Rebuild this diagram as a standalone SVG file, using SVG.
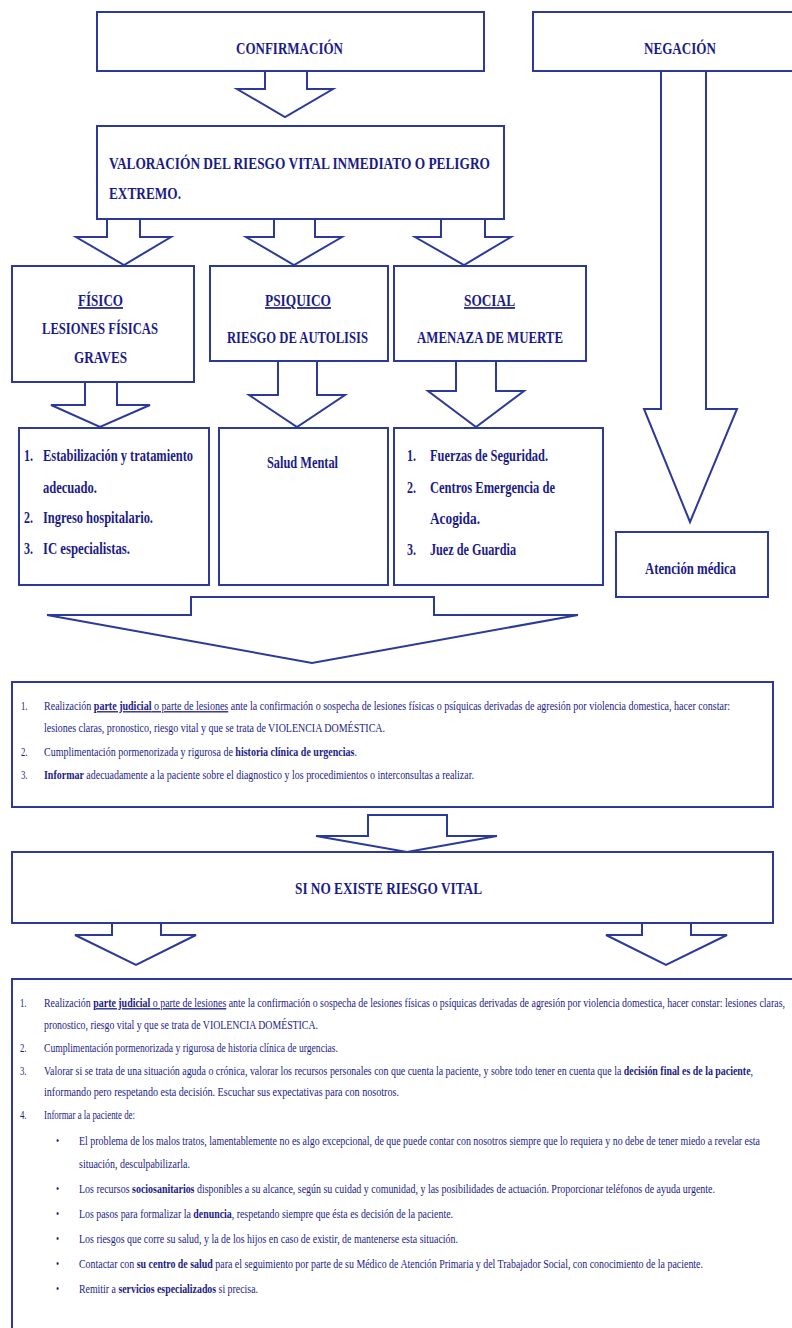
<svg xmlns="http://www.w3.org/2000/svg" width="792" height="1328" viewBox="0 0 792 1328">
<style>
.box{fill:#fff;stroke:#2b3a9a;stroke-width:2}
.arr{fill:#fff;stroke:#2b3a9a;stroke-width:2;stroke-linejoin:miter}
text{font-family:"Liberation Serif","Times New Roman",serif;fill:#1b1b87}
.h{font-weight:bold;font-size:17px}
.m{font-size:16px;font-weight:bold}
.c{font-size:17px;font-weight:bold}
.s{font-size:13px}
.bb{font-weight:bold}
.u{text-decoration:underline}
</style>
<rect width="792" height="1328" fill="#fff"/>
<g id="connectors">
<path class="arr" d="M265,71 L265,89 L237,89 L285,117 L333,89 L307,89 L307,71"/>
<path class="arr" d="M107,219 L107,237 L76,237 L124,265 L171,237 L140,237 L140,219"/>
<path class="arr" d="M274,219 L274,237 L246,237 L294,265 L342,237 L315,237 L315,219"/>
<path class="arr" d="M441,219 L441,237 L415,237 L464,265 L511,237 L485,237 L485,219"/>
<path class="arr" d="M661,71 L661,409 L644,409 L690,522 L737,409 L706,409 L706,71"/>
<path class="arr" d="M85,382 L85,405 L51,405 L100,427 L150,405 L117,405 L117,382"/>
<path class="arr" d="M278,361 L278,395 L249,395 L297,427 L345,395 L317,395 L317,361"/>
<path class="arr" d="M456,361 L456,391 L428,391 L476,427 L524,391 L496,391 L496,361"/>
<path class="arr" d="M191,597 L434,597 L434,615 L578,615 L312,663 L47,615 L191,615 Z"/>
<path class="arr" d="M368,815 L447,815 L447,836 L497,836 L407,852 L316,836 L368,836 Z"/>
<path class="arr" d="M112,923 L112,935 L75,935 L136,965 L196,935 L161,935 L161,923"/>
<path class="arr" d="M642,923 L642,935 L606,935 L666,965 L727,935 L691,935 L691,923"/>
</g>
<g id="confirmacion">
<rect class="box" x="97" y="12" width="387" height="59"/>
<g transform="scale(0.75 1)"><text class="h" x="314.67" y="54" textLength="142.67" lengthAdjust="spacingAndGlyphs">CONFIRMACIÓN</text></g>
</g>
<g id="negacion">
<rect class="box" x="533" y="12" width="270" height="59"/>
<g transform="scale(0.75 1)"><text class="h" x="858.67" y="54" textLength="96" lengthAdjust="spacingAndGlyphs">NEGACIÓN</text></g>
</g>
<g id="valoracion">
<rect class="box" x="97" y="126" width="407" height="93"/>
<g transform="scale(0.75 1)">
<text class="h" x="145.33" y="169" textLength="508" lengthAdjust="spacingAndGlyphs">VALORACIÓN DEL RIESGO VITAL INMEDIATO O PELIGRO</text>
<text class="h" x="145.33" y="199" textLength="96" lengthAdjust="spacingAndGlyphs">EXTREMO.</text>
</g>
</g>
<g id="fisico">
<rect class="box" x="12" y="266" width="182" height="116"/>
<g transform="scale(0.75 1)">
<text class="c u" x="104" y="306" textLength="60" lengthAdjust="spacingAndGlyphs">FÍSICO</text>
<text class="c" x="56" y="334" textLength="154.67" lengthAdjust="spacingAndGlyphs">LESIONES FÍSICAS</text>
<text class="c" x="98.67" y="363" textLength="70.67" lengthAdjust="spacingAndGlyphs">GRAVES</text>
</g>
</g>
<g id="psiquico">
<rect class="box" x="210" y="266" width="178" height="95"/>
<g transform="scale(0.75 1)">
<text class="c u" x="353.33" y="306" textLength="88" lengthAdjust="spacingAndGlyphs">PSIQUICO</text>
<text class="c" x="302.67" y="343" textLength="188" lengthAdjust="spacingAndGlyphs">RIESGO DE AUTOLISIS</text>
</g>
</g>
<g id="social">
<rect class="box" x="394" y="266" width="192" height="95"/>
<g transform="scale(0.75 1)">
<text class="c u" x="618.67" y="306" textLength="68" lengthAdjust="spacingAndGlyphs">SOCIAL</text>
<text class="c" x="556" y="343" textLength="194.67" lengthAdjust="spacingAndGlyphs">AMENAZA DE MUERTE</text>
</g>
</g>
<g id="fisico-acciones">
<rect class="box" x="19" y="428" width="190" height="157"/>
<g transform="scale(0.75 1)">
<text class="m" x="32" y="461">1.</text>
<text class="m" x="57.33" y="461" textLength="200" lengthAdjust="spacingAndGlyphs">Estabilización y tratamiento</text>
<text class="m" x="57.33" y="493" textLength="72" lengthAdjust="spacingAndGlyphs">adecuado.</text>
<text class="m" x="32" y="523">2.</text>
<text class="m" x="57.33" y="523" textLength="146.67" lengthAdjust="spacingAndGlyphs">Ingreso hospitalario.</text>
<text class="m" x="32" y="554">3.</text>
<text class="m" x="57.33" y="554" textLength="116" lengthAdjust="spacingAndGlyphs">IC especialistas.</text>
</g>
</g>
<g id="salud-mental">
<rect class="box" x="219" y="428" width="169" height="157"/>
<g transform="scale(0.75 1)"><text class="m" x="356" y="468" textLength="94.67" lengthAdjust="spacingAndGlyphs">Salud Mental</text></g>
</g>
<g id="social-acciones">
<rect class="box" x="394" y="428" width="209" height="157"/>
<g transform="scale(0.75 1)">
<text class="m" x="542.67" y="461">1.</text>
<text class="m" x="573.33" y="461" textLength="157.33" lengthAdjust="spacingAndGlyphs">Fuerzas de Seguridad.</text>
<text class="m" x="542.67" y="493">2.</text>
<text class="m" x="573.33" y="493" textLength="166.67" lengthAdjust="spacingAndGlyphs">Centros Emergencia de</text>
<text class="m" x="573.33" y="524" textLength="66.67" lengthAdjust="spacingAndGlyphs">Acogida.</text>
<text class="m" x="542.67" y="555">3.</text>
<text class="m" x="573.33" y="555" textLength="114.67" lengthAdjust="spacingAndGlyphs">Juez de Guardia</text>
</g>
</g>
<g id="atencion-medica">
<rect class="box" x="616" y="532" width="152" height="65"/>
<g transform="scale(0.75 1)"><text class="m" x="860" y="574" textLength="121.33" lengthAdjust="spacingAndGlyphs">Atención médica</text></g>
</g>
<g id="acciones-comunes">
<rect class="box" x="12" y="682" width="761" height="125"/>
<g transform="scale(0.675 1)">
<text class="s" x="31.11" y="710">1.</text>
<text class="s" x="65.19" y="710" textLength="1016.3" lengthAdjust="spacingAndGlyphs">Realización <tspan class="u"><tspan class="bb">parte judicial</tspan> o parte de lesiones</tspan> ante la confirmación o sospecha de lesiones físicas o psíquicas derivadas de agresión por violencia domestica, hacer constar:</text>
<text class="s" x="65.19" y="732" textLength="505.2" lengthAdjust="spacingAndGlyphs">lesiones claras, pronostico, riesgo vital y que se trata de VIOLENCIA DOMÉSTICA.</text>
<text class="s" x="31.11" y="756">2.</text>
<text class="s" x="65.19" y="756" textLength="463.7" lengthAdjust="spacingAndGlyphs">Cumplimentación pormenorizada y rigurosa de <tspan class="bb">historia clínica de urgencias</tspan>.</text>
<text class="s" x="31.11" y="779">3.</text>
<text class="s" x="65.19" y="779" textLength="637" lengthAdjust="spacingAndGlyphs"><tspan class="bb">Informar</tspan> adecuadamente a la paciente sobre el diagnostico y los procedimientos o interconsultas a realizar.</text>
</g>
</g>
<g id="sin-riesgo">
<rect class="box" x="12" y="852" width="761" height="71"/>
<g transform="scale(0.75 1)"><text class="h" x="393.33" y="894" textLength="249.33" lengthAdjust="spacingAndGlyphs">SI NO EXISTE RIESGO VITAL</text></g>
</g>
<g id="acciones-sin-riesgo">
<rect class="box" x="12" y="979" width="800" height="360"/>
<g transform="scale(0.675 1)">
<text class="s" x="29.63" y="1007">1.</text>
<text class="s" x="65.19" y="1007" textLength="1097.8" lengthAdjust="spacingAndGlyphs">Realización <tspan class="u"><tspan class="bb">parte judicial</tspan> o parte de lesiones</tspan> ante la confirmación o sospecha de lesiones físicas o psíquicas derivadas de agresión por violencia domestica, hacer constar: lesiones claras,</text>
<text class="s" x="65.19" y="1029" textLength="405.9" lengthAdjust="spacingAndGlyphs">pronostico, riesgo vital y que se trata de VIOLENCIA DOMÉSTICA.</text>
<text class="s" x="29.63" y="1052">2.</text>
<text class="s" x="65.19" y="1052" textLength="435.6" lengthAdjust="spacingAndGlyphs">Cumplimentación pormenorizada y rigurosa de historia clínica de urgencias.</text>
<text class="s" x="29.63" y="1075">3.</text>
<text class="s" x="65.19" y="1075" textLength="1050.4" lengthAdjust="spacingAndGlyphs">Valorar si se trata de una situación aguda o crónica, valorar los recursos personales con que cuenta la paciente, y sobre todo tener en cuenta que la <tspan class="bb">decisión final es de la paciente</tspan>,</text>
<text class="s" x="65.19" y="1096" textLength="525.9" lengthAdjust="spacingAndGlyphs">informando pero respetando esta decisión. Escuchar sus expectativas para con nosotros.</text>
<text class="s" x="29.63" y="1119">4.</text>
<text class="s" x="65.19" y="1119" textLength="134.8" lengthAdjust="spacingAndGlyphs">Informar a la paciente de:</text>
<text class="s" x="82.96" y="1145">•</text>
<text class="s" x="117.04" y="1145" textLength="1008.9" lengthAdjust="spacingAndGlyphs">El problema de los malos tratos, lamentablemente no es algo excepcional, de que puede contar con nosotros siempre que lo requiera y no debe de tener miedo a revelar esta</text>
<text class="s" x="117.04" y="1168" textLength="164.4" lengthAdjust="spacingAndGlyphs">situación, desculpabilizarla.</text>
<text class="s" x="82.96" y="1193">•</text>
<text class="s" x="117.04" y="1193" textLength="942.2" lengthAdjust="spacingAndGlyphs">Los recursos <tspan class="bb">sociosanitarios</tspan> disponibles a su alcance, según su cuidad y comunidad, y las posibilidades de actuación. Proporcionar teléfonos de ayuda urgente.</text>
<text class="s" x="82.96" y="1218">•</text>
<text class="s" x="117.04" y="1218" textLength="554.1" lengthAdjust="spacingAndGlyphs">Los pasos para formalizar la <tspan class="bb">denuncia</tspan>, respetando siempre que ésta es decisión de la paciente.</text>
<text class="s" x="82.96" y="1243">•</text>
<text class="s" x="117.04" y="1243" textLength="561.5" lengthAdjust="spacingAndGlyphs">Los riesgos que corre su salud, y la de los hijos en caso de existir, de mantenerse esta situación.</text>
<text class="s" x="82.96" y="1268">•</text>
<text class="s" x="117.04" y="1268" textLength="924.4" lengthAdjust="spacingAndGlyphs">Contactar con <tspan class="bb">su centro de salud</tspan> para el seguimiento por parte de su Médico de Atención Primaria y del Trabajador Social, con conocimiento de la paciente.</text>
<text class="s" x="82.96" y="1293">•</text>
<text class="s" x="117.04" y="1293" textLength="265.2" lengthAdjust="spacingAndGlyphs">Remitir a <tspan class="bb">servicios especializados</tspan> si precisa.</text>
</g>
</g>
</svg>
